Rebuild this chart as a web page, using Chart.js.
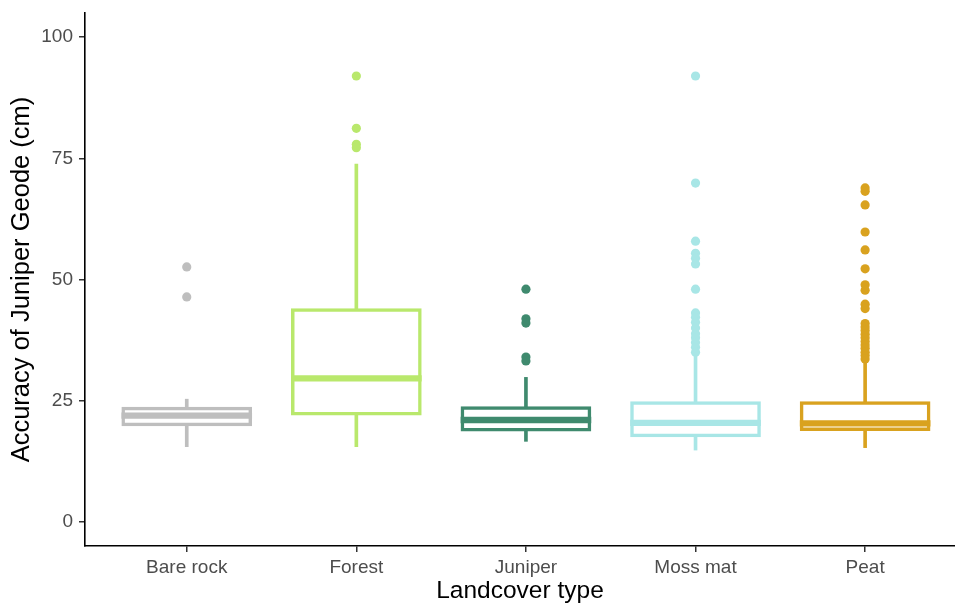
<!DOCTYPE html>
<html>
<head>
<meta charset="utf-8">
<script src="https://cdn.jsdelivr.net/npm/chart.js@4/dist/chart.umd.min.js"></script>
<style>
  body { margin: 0; background: #fff; }
</style>
</head>
<body>
<canvas id="chartAccuracy" width="955" height="605"></canvas>
<script>
// landcover classes along the x axis
const categories = ["Bare rock", "Forest", "Juniper", "Moss mat", "Peat"];

// box statistics per class (cm)
const q1 = [20.1, 22.3, 19.0, 17.8, 19.1];
const medians = [21.9, 29.6, 21.0, 20.4, 20.3];
const q3 = [23.4, 43.7, 23.5, 24.5, 24.5];
const whiskerLow = [15.5, 15.5, 16.6, 14.8, 15.3];
const whiskerHigh = [25.3, 73.8, 29.8, 34.3, 32.8];

// outlying points per class
const outliersBareRock = [52.6, 46.4];
const outliersForest = [92.0, 81.2, 77.9, 77.2];
const outliersJuniper = [48.0, 41.9, 41.0, 34.0, 33.2];
const outliersMossMat = [92.0, 69.9, 57.9, 55.4, 54.4, 53.2, 48.0, 43.1, 42.2, 41.2, 40.0, 38.8, 38.0, 37.0, 36.0, 35.0];
const outliersPeat = [68.9, 68.2, 65.4, 59.8, 56.1, 52.2, 48.9, 47.8, 44.9, 44.0, 40.9, 40.2, 39.5, 38.7, 38.0, 37.2, 36.5, 35.8, 35.0, 34.3, 33.6];

const yTicks = [0, 25, 50, 75, 100];

const colors = ["#bebebe", "#b9e86c", "#3f8a6e", "#a8e6e6", "#d9a21f"];
const MEDIAN_HALF = 0.65;
const FONT = "'Liberation Sans', Arial, sans-serif";

const outlierSets = [outliersBareRock, outliersForest, outliersJuniper, outliersMossMat, outliersPeat];

const medianData = categories.map((c, i) => ({ x: i + 1, y: [medians[i] - MEDIAN_HALF, medians[i] + MEDIAN_HALF] }));
const boxData = categories.map((c, i) => ({ x: i + 1, y: [q1[i], q3[i]] }));
const whiskerData = categories.map((c, i) => ({ x: i + 1, y: [whiskerLow[i], whiskerHigh[i]] }));

const outlierDatasets = outlierSets.map((vals, i) => ({
  type: "scatter",
  label: categories[i] + " outliers",
  data: vals.map((v) => ({ x: i + 1, y: v })),
  pointRadius: 4.6,
  pointBorderWidth: 0,
  pointBackgroundColor: colors[i],
  pointBorderColor: colors[i],
}));

// drop the extra room Chart.js keeps for edge tick labels
const noEdgePadding = (scale) => {
  scale.paddingTop = 0;
  scale.paddingBottom = 0;
  scale.paddingLeft = 0;
  scale.paddingRight = 0;
};

const chartAccuracy = new Chart(document.querySelector("#chartAccuracy"), {
  type: "bar",
  data: {
    datasets: [
      {
        label: "Median",
        data: medianData,
        backgroundColor: colors,
        borderWidth: 0,
        grouped: false,
        barPercentage: 0.77,
        categoryPercentage: 1,
      },
      {
        label: "Box",
        data: boxData,
        backgroundColor: "#ffffff",
        borderColor: colors,
        borderWidth: 3.5,
        borderSkipped: false,
        inflateAmount: 1.75,
        grouped: false,
        barPercentage: 0.75,
        categoryPercentage: 1,
      },
      {
        label: "Whisker",
        data: whiskerData,
        backgroundColor: colors,
        borderWidth: 0,
        grouped: false,
        barThickness: 3,
      },
      ...outlierDatasets,
    ],
  },
  options: {
    responsive: false,
    animation: false,
    layout: { autoPadding: false, padding: { left: 0, right: 0, top: 13, bottom: 0 } },
    plugins: {
      legend: { display: false },
      tooltip: { enabled: false },
    },
    scales: {
      x: {
        type: "linear",
        min: 0.4,
        max: 5.53,
        offset: false,
        afterBuildTicks: (scale) => {
          scale.ticks = categories.map((c, i) => ({ value: i + 1 }));
        },
        afterFit: (scale) => {
          scale.height = 59;
          noEdgePadding(scale);
        },
        ticks: {
          callback: (value) => categories[value - 1],
          color: "#4d4d4d",
          font: { family: FONT, size: 19 },
          padding: 4,
          maxRotation: 0,
          autoSkip: false,
        },
        grid: {
          offset: false,
          drawOnChartArea: false,
          drawTicks: true,
          tickLength: 6,
          tickColor: "#333333",
          lineWidth: 1.5,
        },
        border: { display: true, color: "#000000", width: 1.6 },
        title: {
          display: true,
          text: "Landcover type",
          color: "#000000",
          font: { family: FONT, size: 24.5, lineHeight: 1.1 },
          padding: { top: 0, bottom: 0 },
        },
      },
      y: {
        min: -5,
        max: 105,
        afterBuildTicks: (scale) => {
          scale.ticks = yTicks.map((v) => ({ value: v }));
        },
        afterFit: (scale) => {
          scale.width = 85;
          noEdgePadding(scale);
        },
        ticks: {
          color: "#4d4d4d",
          font: { family: FONT, size: 19 },
          padding: 6,
        },
        grid: {
          drawOnChartArea: false,
          drawTicks: true,
          tickLength: 6,
          tickColor: "#333333",
          lineWidth: 1.5,
        },
        border: { display: true, color: "#000000", width: 1.6 },
        title: {
          display: true,
          text: "Accuracy of Juniper Geode (cm)",
          color: "#000000",
          font: { family: FONT, size: 25.5, lineHeight: 1.2 },
          padding: { top: 7, bottom: 0 },
        },
      },
    },
  },
});
</script>
</body>
</html>
